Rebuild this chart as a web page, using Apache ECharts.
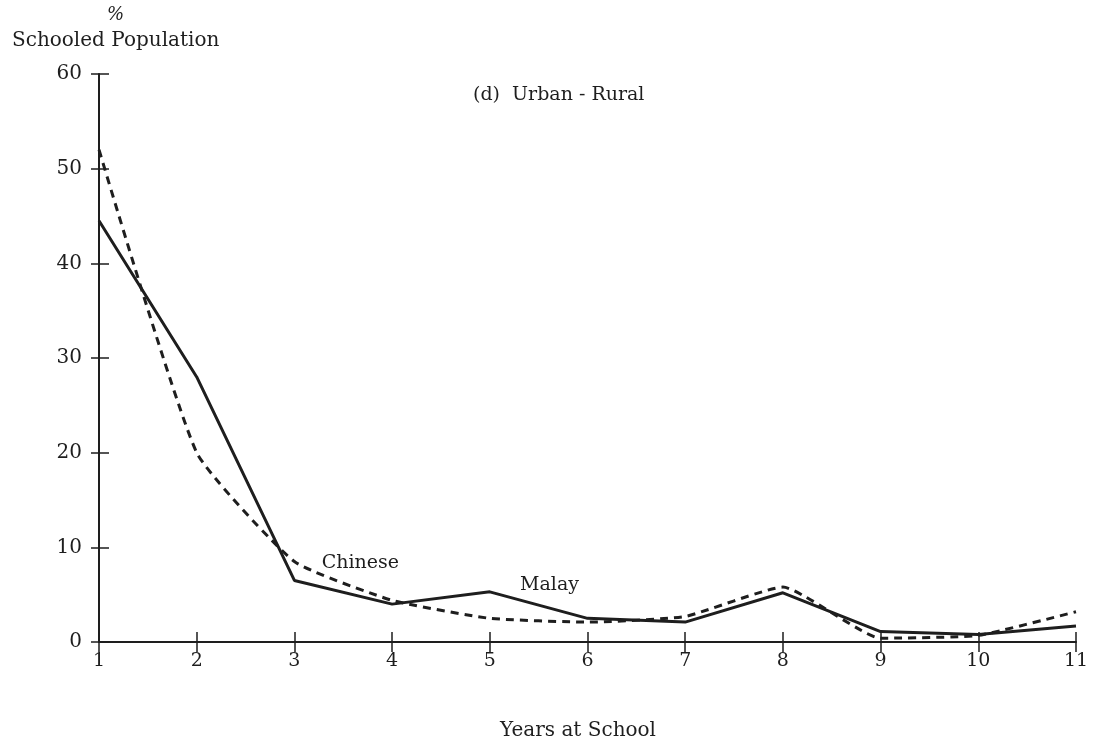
<!DOCTYPE html>
<html><head><meta charset="utf-8">
<script src="https://cdn.jsdelivr.net/npm/echarts@6/dist/echarts.min.js"></script>
<style>html,body{margin:0;padding:0;background:#fff}#c{width:1115px;height:750px}</style>
</head><body><div id="c"></div>
<script>
const years = [1,2,3,4,5,6,7,8,9,10,11];
const malay = [44.5,28,6.5,4.0,5.3,2.5,2.1,5.2,1.1,0.8,1.7];
const chinese = [52,20,8.5,4.4,2.5,2.1,2.7,5.8,0.4,0.7,3.2];
const yTicks = [0,10,20,30,40,50,60];
const FONT = 'DejaVu Serif';
const INK = '#1e1e1e';
const chart = echarts.init(document.getElementById('c'));
const grid = {left:99,right:39,top:74,bottom:108};
const axX = (inside)=>({type:'value',min:1,max:11,interval:1,position:'bottom',
  axisLine:{show:!inside,lineStyle:{color:INK,width:2}},
  axisTick:{show:true,inside:inside,length:10,lineStyle:{color:INK,width:1.5}},
  axisLabel:{show:!inside,color:INK,fontFamily:FONT,fontSize:19,margin:10},
  splitLine:{show:false}});
const axY = (inside)=>({type:'value',min:0,max:60,interval:10,position:'left',
  axisLine:{show:!inside,lineStyle:{color:INK,width:2}},
  axisTick:{show:true,inside:inside,length:inside?10:8,lineStyle:{color:INK,width:1.5}},
  axisLabel:{show:!inside,color:INK,fontFamily:FONT,fontSize:20,margin:17,
    formatter:v=>yTicks.includes(v)?String(v):''},
  splitLine:{show:false}});
chart.setOption({
  animation:false,
  backgroundColor:'#fff',
  grid:grid,
  xAxis:[axX(false),axX(true)],
  yAxis:[axY(false),axY(true)],
  graphic:[
    {type:'text',left:107,top:6,style:{text:'%',font:'italic 18px '+FONT,fill:INK}},
    {type:'text',left:12,top:31,style:{text:'Schooled Population',font:'20px '+FONT,fill:INK}},
    {type:'text',left:473,top:86,style:{text:'(d)  Urban - Rural',font:'19px '+FONT,fill:INK}},
    {type:'text',left:500,top:721,style:{text:'Years at School',font:'20px '+FONT,fill:INK}}
  ],
  series:[
    {name:'Malay',type:'line',data:years.map((y,i)=>[y,malay[i]]),symbol:'none',
     lineStyle:{color:INK,width:3},
     markPoint:{symbol:'circle',symbolSize:0,data:[{coord:[5.31,6.0],value:'Malay'}],
       label:{show:true,position:'right',distance:0,formatter:'Malay',color:INK,fontFamily:FONT,fontSize:19}}},
    {name:'Chinese',type:'line',data:years.map((y,i)=>[y,chinese[i]]),symbol:'none',smooth:0.15,
     lineStyle:{color:INK,width:3,type:[8,6]},
     markPoint:{symbol:'circle',symbolSize:0,data:[{coord:[3.28,8.3],value:'Chinese'}],
       label:{show:true,position:'right',distance:0,formatter:'Chinese',color:INK,fontFamily:FONT,fontSize:19}}}
  ]
});
</script></body></html>
